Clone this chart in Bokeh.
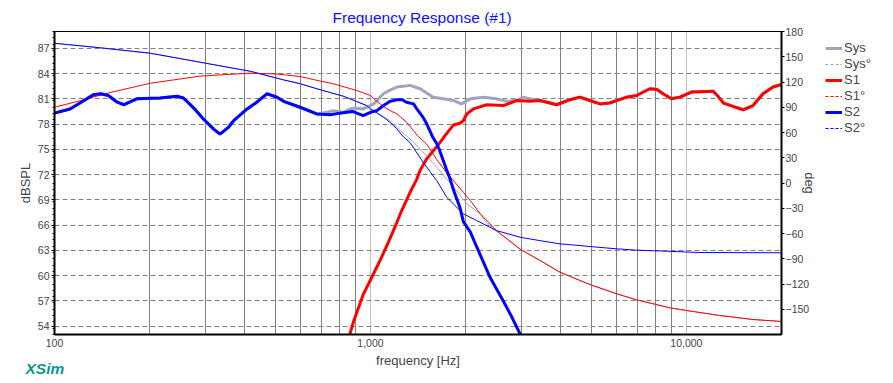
import numpy as np
from bokeh.plotting import figure
from bokeh.layouts import row
from bokeh.models import (Range1d, LinearAxis, FixedTicker, NumeralTickFormatter,
                          Legend, LegendItem, Title)
from bokeh.embed import file_html
from bokeh.resources import INLINE

# ---------------- data ----------------
# S2 magnitude (woofer) [Hz], [dB SPL]
s2_freq = [100, 112, 124, 133, 140, 148, 158, 166, 182, 216, 244, 256, 276, 296, 319,
           334, 355, 369, 407, 437, 470, 506, 531, 599, 676, 745, 801, 877, 948, 1000,
           1048, 1100, 1154, 1212, 1260, 1300, 1370, 1402, 1468, 1508, 1577, 1620, 1655,
           1744, 1786, 1834, 1920, 1968, 2070, 2170, 2390, 2630, 2800, 2980]
s2_db = [79.3, 79.8, 80.8, 81.5, 81.6, 81.4, 80.6, 80.3, 81.0, 81.1, 81.3, 81.1, 79.9, 78.6, 77.4,
         76.8, 77.6, 78.4, 79.8, 80.6, 81.6, 81.2, 80.7, 80.0, 79.2, 79.1, 79.3, 79.5, 79.0, 79.4,
         79.6, 80.2, 80.7, 80.9, 80.9, 80.6, 80.4, 79.8, 78.8, 78.0, 76.4, 75.7, 74.9,
         72.5, 71.5, 70.1, 68.1, 66.4, 65.2, 63.4, 59.8, 57.0, 55.1, 53.0]

# S1 magnitude (tweeter)
s1_freq = [860, 887, 950, 1010, 1073, 1141, 1212, 1255, 1335, 1400, 1436, 1508, 1621, 1744, 1832,
           1921, 1968, 2017, 2117, 2334, 2634, 2902, 3198, 3444, 3884, 4280, 4603, 4950, 5323, 5712,
           6150, 6465, 6955, 7663, 8070, 8439, 8976, 9531, 10380, 12150, 12600, 13100, 14050, 15110,
           16250, 17480, 18800, 20000]
s1_db = [53.0, 54.7, 57.8, 59.8, 61.8, 64.0, 66.3, 67.7, 69.9, 71.4, 72.5, 73.9, 75.3, 76.9, 77.9,
         78.1, 78.4, 79.2, 79.8, 80.3, 80.2, 80.8, 80.7, 80.8, 80.3, 80.9, 81.2, 80.8, 80.4, 80.5,
         80.9, 81.2, 81.4, 82.2, 82.1, 81.6, 81.0, 81.2, 81.8, 81.9, 81.3, 80.5, 80.1, 79.7,
         80.2, 81.6, 82.4, 82.7]

# System magnitude where it departs from S2 / S1
sys_mid_freq = [728, 763, 822, 863, 885, 950, 1025, 1099, 1150, 1212, 1270, 1335, 1436, 1580,
                1700, 1832, 1940, 2070, 2280, 2500, 2700, 2902, 3040, 3300]
sys_mid_db = [79.4, 79.6, 79.4, 79.8, 79.9, 79.8, 80.4, 81.6, 82.0, 82.4, 82.5, 82.6, 82.2, 81.2,
              81.0, 80.8, 80.4, 81.0, 81.2, 81.0, 80.7, 80.8, 81.2, 80.9]

# S2 phase [deg]
s2p_freq = [100, 140, 201, 289, 416, 531, 600, 676, 822, 973, 1000, 1099, 1154, 1212, 1270, 1335,
            1468, 1540, 1621, 1744, 1920, 1968, 2170, 2500, 2974, 3440, 3979, 4603, 4950, 6012,
            6955, 8652, 11030, 20000]
s2p_deg = [166, 160.6, 154.2, 143.5, 132.8, 122.5, 117.9, 112, 103, 92, 88.2, 78.2, 72, 64.4, 55, 48,
           24.7, 14, 2.9, -16.9, -32.7, -36.6, -44.6, -56.4, -64.4, -68.5, -72.3, -74.3, -75.5, -78.2,
           -79.8, -81, -82.6, -82.9]

# S1 phase [deg]
s1p_freq = [100, 124, 148, 201, 289, 416, 506, 600, 676, 763, 903, 1000, 1048, 1099, 1154, 1212,
            1303, 1370, 1402, 1508, 1621, 1744, 1834, 1968, 2070, 2220, 2500, 2974, 3440, 3979,
            4603, 4950, 6012, 6955, 7847, 8862, 10000, 12750, 16250, 20000]
s1p_deg = [90, 99, 107, 118.5, 127, 130.5, 129.5, 126.5, 122, 117.9, 110, 104, 97, 91, 86, 82.2,
           72, 62, 57, 46, 28, 12, 2.5, -11, -20.8, -36, -56.4, -78.5, -92, -106,
           -115.8, -120.6, -131.6, -138.8, -143.5, -148.3, -151.5, -157.4, -162.2, -164.5]

# System phase where it departs from S2 / S1
sysp_mid_freq = [1099, 1154, 1241, 1370, 1500, 1621, 1834, 2017, 2223, 2334]
sysp_mid_deg = [79, 74, 62.4, 48.5, 33, 18.8, -5, -24.8, -36.6, -48]

# axis ticks / labels
x_ticks = [100, 1000, 10000]
x_minor_grid = [200, 300, 400, 500, 600, 700, 800, 900,
                2000, 3000, 4000, 5000, 6000, 7000, 8000, 9000]
db_ticks = [54, 57, 60, 63, 66, 69, 72, 75, 78, 81, 84, 87]
deg_ticks = [-150, -120, -90, -60, -30, 0, 30, 60, 90, 120, 150, 180]
legend_labels = ["Sys", "Sys°", "S1", "S1°", "S2", "S2°"]

# ---------------- derived system curves ----------------
sys_freq = [f for f in s2_freq if f < 700] + sys_mid_freq + [f for f in s1_freq if f > 3400]
sys_db = ([d for f, d in zip(s2_freq, s2_db) if f < 700] + sys_mid_db +
          [d for f, d in zip(s1_freq, s1_db) if f > 3400])
sysp_freq = [f for f in s2p_freq if f <= 1000] + sysp_mid_freq + [f for f in s1p_freq if f >= 2500]
sysp_deg = ([d for f, d in zip(s2p_freq, s2p_deg) if f <= 1000] + sysp_mid_deg +
            [d for f, d in zip(s1p_freq, s1p_deg) if f >= 2500])

# ---------------- main figure ----------------
FONT = "Liberation Sans"
GRAY = "#A2A4BE"
RED = "#FF0000"
BLUE = "#0000FF"

p = figure(width=822, height=381, x_axis_type="log",
           x_range=Range1d(100, 20000), y_range=Range1d(53, 89),
           output_backend="svg", toolbar_location=None,
           min_border_left=54, min_border_right=41, min_border_top=31, min_border_bottom=47,
           title="Frequency Response (#1)")
p.extra_y_ranges = {"phase": Range1d(-180, 180)}
p.background_fill_color = "white"
p.border_fill_color = "white"
p.outline_line_color = "black"
p.outline_line_width = 1

p.title.align = "left"
p.title.offset = 278
p.title.text_color = "#1010FF"
p.title.text_font = FONT
p.title.text_font_size = "15.5px"
p.title.text_font_style = "normal"
p.title.standoff = 11

# x axis
xa = p.xaxis[0]
xa.ticker = FixedTicker(ticks=x_ticks)
xa.formatter = NumeralTickFormatter(format="0,0")
xa.axis_label = "frequency [Hz]"
xa.axis_line_width = 2
xa.major_tick_out = 0
xa.major_tick_in = 0
xa.minor_tick_out = 0
xa.minor_tick_in = 0
xa.major_label_standoff = 4
xa.axis_label_standoff = 3
xa.major_label_text_font = FONT
xa.major_label_text_font_size = "10.5px"
xa.axis_label_text_font = FONT
xa.axis_label_text_font_size = "13px"
xa.axis_label_text_font_style = "normal"

# left axis
ya = p.yaxis[0]
db_minor = [round(v, 2) for v in np.arange(53, 89.01, 0.75)]
ya.ticker = FixedTicker(ticks=db_ticks, minor_ticks=db_minor)
ya.axis_label = "dBSPL"
ya.axis_line_width = 2
ya.major_tick_out = 3
ya.major_tick_in = 0
ya.minor_tick_out = 2
ya.minor_tick_in = 0
ya.major_label_standoff = 2
ya.axis_label_standoff = 2
ya.major_label_text_font = FONT
ya.major_label_text_font_size = "10.5px"
ya.axis_label_text_font = FONT
ya.axis_label_text_font_size = "13px"
ya.axis_label_text_font_style = "normal"

# right axis (phase)
ra = LinearAxis(y_range_name="phase", ticker=FixedTicker(ticks=deg_ticks), axis_label="deg")
ra.axis_line_width = 2
ra.major_tick_out = 3
ra.major_tick_in = 0
ra.minor_tick_out = 0
ra.minor_tick_in = 0
ra.major_label_standoff = 1
ra.axis_label_standoff = -10
ra.major_label_text_font = FONT
ra.major_label_text_font_size = "10.5px"
ra.axis_label_text_font = FONT
ra.axis_label_text_font_size = "13px"
ra.axis_label_text_font_style = "normal"
p.add_layout(ra, "right")

# grids
p.xgrid.ticker = FixedTicker(ticks=[1000, 10000], minor_ticks=x_minor_grid)
p.xgrid.grid_line_color = "#808080"
p.xgrid.grid_line_dash = "1 1"
p.xgrid.minor_grid_line_color = "black"
p.xgrid.minor_grid_line_dash = "1 1"
p.ygrid.ticker = FixedTicker(ticks=db_ticks)
p.ygrid.grid_line_color = "#808080"
p.ygrid.grid_line_dash = "5 3"

# curves
p.line(sys_freq, sys_db, line_color=GRAY, line_width=3)
p.line(sysp_freq, sysp_deg, line_color=GRAY, line_width=1, y_range_name="phase")
p.line(s1_freq, s1_db, line_color=RED, line_width=3)
p.line(s1p_freq, s1p_deg, line_color=RED, line_width=1, y_range_name="phase")
p.line(s2_freq, s2_db, line_color=BLUE, line_width=3)
p.line(s2p_freq, s2p_deg, line_color=BLUE, line_width=1, y_range_name="phase")

# XSim logo text, below the x axis
p.add_layout(Title(text="XSim", align="left", offset=-29, vertical_align="top", standoff=-22,
                   text_font=FONT, text_font_size="15.5px", text_font_style="bold italic",
                   text_color="#0E9494"), "below")

# ---------------- legend panel (separate narrow figure to the right) ----------------
lg = figure(width=68, height=381, output_backend="svg", toolbar_location=None,
            x_range=Range1d(0, 1), y_range=Range1d(0, 1),
            x_axis_location=None, y_axis_location=None,
            min_border_left=0, min_border_right=0, min_border_top=0, min_border_bottom=0)
lg.grid.visible = False
lg.outline_line_color = None
lg.background_fill_color = "white"
lg.border_fill_color = "white"

# swatch renderers (their points lie outside the panel's range, only the legend shows them)
sw_x = [5, 6]
sw_y = [5, 6]
styles = [(GRAY, 3, "solid"), (GRAY, 1, "3 2"), (RED, 3, "solid"),
          (RED, 1, "3 2"), (BLUE, 3, "solid"), (BLUE, 1, "3 2")]
items = []
for lab, (col, w, dash) in zip(legend_labels, styles):
    r = lg.line(sw_x, sw_y, line_color=col, line_alpha=1.0, line_width=w, line_dash=dash)
    items.append(LegendItem(label=lab, renderers=[r]))

legend = Legend(items=items, location=(3, 198.5), padding=0, margin=0, spacing=0,
                glyph_width=17, glyph_height=16, label_height=16, label_standoff=2,
                label_text_font=FONT, label_text_font_size="13px",
                border_line_alpha=0, background_fill_alpha=0)
lg.add_layout(legend, "center")

layout = row(p, lg)
open("out.html", "w").write(file_html(layout, INLINE))
